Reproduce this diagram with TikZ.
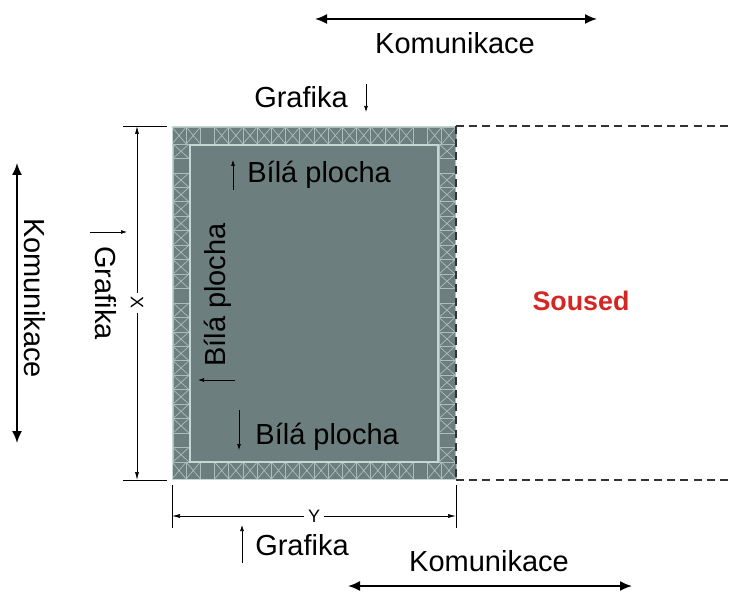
\documentclass[tikz,border=0pt]{standalone}
\usepackage{fontspec}
\setmainfont{Liberation Sans}
\usepackage{xcolor}
\usetikzlibrary{arrows.meta}
\definecolor{deska}{RGB}{108,126,125}
\definecolor{srafa}{RGB}{172,190,188}
\definecolor{okraj}{RGB}{200,214,212}
\definecolor{soused}{RGB}{214,38,36}
\newcommand{\krizek}[4]{\draw[srafa,line width=0.35pt] (#1,#2) -- (#3,#4) (#1,#4) -- (#3,#2)}

\begin{document}
\begin{tikzpicture}[x=0.5pt,y=-0.5pt,
    lbl/.style={font=\fontsize{14.5}{16}\selectfont,inner sep=1pt},
    kom/.style={{Latex[length=6pt,width=5pt]}-{Latex[length=6pt,width=5pt]},line width=0.9pt},
    ukaz/.style={-{Latex[length=3pt,width=2pt]},line width=0.35pt},
    dim/.style={line width=0.35pt},
    kota/.style={font=\fontsize{9}{10}\selectfont,fill=white,inner sep=2pt},
    soused/.style={dash pattern=on 4pt off 2.6pt,line width=0.6pt,black!80}]
    \useasboundingbox (0,0) rectangle (731,592);

    \fill[deska] (172,126) rectangle (456,480);
    \foreach \i in {0,...,19} {
        \draw[srafa,line width=0.35pt] (172+\i*14.2,127) rectangle (186.2+\i*14.2,144);
        \draw[srafa,line width=0.35pt] (172+\i*14.2,462) rectangle (186.2+\i*14.2,479);
    }
    \foreach \i in {0,1,3,4,5,6,7,8,9,10,11,12,13,14,15,16,18,19} {
        \krizek{172+\i*14.2}{127}{186.2+\i*14.2}{144};
        \krizek{172+\i*14.2}{462}{186.2+\i*14.2}{479};
    }
    \foreach \i in {0,...,21} {
        \draw[srafa,line width=0.35pt] (173,144+\i*14.45) rectangle (189,158.45+\i*14.45);
        \draw[srafa,line width=0.35pt] (439,144+\i*14.45) rectangle (455,158.45+\i*14.45);
    }
    \foreach \i in {0,2,3,4,5,6,7,8,9,11,12,13,14,15,16,17,18,19,21} {
        \krizek{173}{144+\i*14.45}{189}{158.45+\i*14.45};
        \krizek{439}{144+\i*14.45}{455}{158.45+\i*14.45};
    }
    \draw[okraj,line width=0.9pt] (190,145) rectangle (438,462);
    \draw[okraj,line width=0.6pt] (172.5,126.5) -- (455.5,126.5) (172.5,126.5) -- (172.5,479.5) -- (455.5,479.5);

    \coordinate (hl) at (456,126);
    \coordinate (dl) at (456,480);
    \draw[soused] (hl) -- (dl);
    \draw[soused] (hl) -- (731,126);
    \draw[soused] (dl) -- (731,480);
    \node[lbl,text=soused,font=\fontsize{13.4}{15}\selectfont\bfseries] (sou) at (581,301) {Soused};

    \coordinate (xa) at (137,126);
    \coordinate (xb) at (137,480);
    \draw[dim] (123,126) -- (167,126);
    \draw[dim] (123,480) -- (167,480);
    \draw[dim,{Latex[length=4pt,width=2pt]}-{Latex[length=4pt,width=2pt]}] (xa) -- node[kota,rotate=-90] (kx) {X} (xb);

    \coordinate (ya) at (172,516);
    \coordinate (yb) at (456,516);
    \draw[dim] (172,485) -- (172,528);
    \draw[dim] (456,485) -- (456,528);
    \draw[dim,{Latex[length=4pt,width=2pt]}-{Latex[length=4pt,width=2pt]}] (ya) -- node[kota] (ky) {Y} (yb);

    \node[lbl] (komT) at (455,43) {Komunikace};
    \draw[kom] (315,19) -- (597,19);
    \node[lbl] (grafT) at (301,97) {Grafika};
    \draw[ukaz] (366,84) -- (366,112);

    \node[lbl,rotate=-90] (komL) at (35,298) {Komunikace};
    \draw[kom] (17,163) -- (17,443);
    \node[lbl,rotate=-90] (grafL) at (106,293) {Grafika};
    \draw[ukaz] (90,232) -- (127,232);

    \node[lbl] (grafB) at (302,545) {Grafika};
    \draw[ukaz] (242,563) -- (242,525);
    \node[lbl] (komB) at (489,561) {Komunikace};
    \draw[kom] (348,586) -- (632,586);

    \node[lbl,anchor=west] (bpH) at (245,175) {Bílá plocha};
    \draw[ukaz] (233,190) -- (233,160);
    \node[lbl,anchor=west] (bpD) at (253,437) {Bílá plocha};
    \draw[ukaz] (239,410) -- (239,450);
    \node[lbl,rotate=90] (bpL) at (218,295) {Bílá plocha};
    \draw[ukaz] (235,380) -- (198,380);
\end{tikzpicture}
\end{document}
